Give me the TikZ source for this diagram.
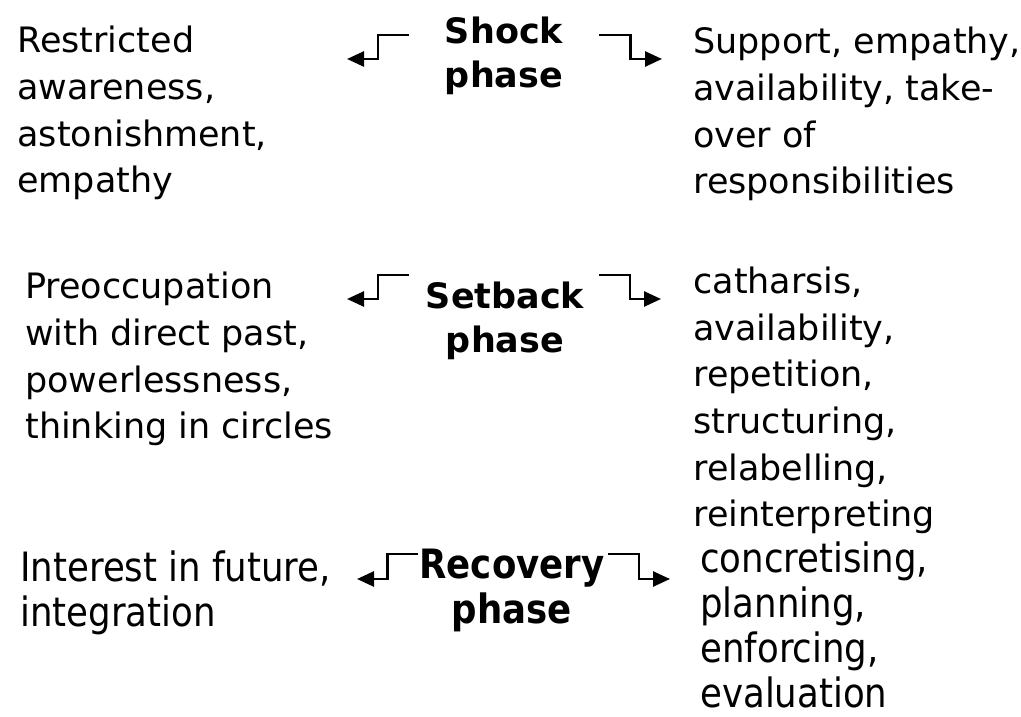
\documentclass[tikz,border=0pt]{standalone}
\usepackage{fontspec}
\setmainfont{DejaVu Sans}
\newfontfamily\narrowfont{DejaVu Sans}[FakeStretch=0.88]
\usetikzlibrary{arrows.meta,calc}

\begin{document}
\begin{tikzpicture}[x=1cm,y=1cm,
  txt/.style={anchor=base west, align=left, inner sep=0pt,
    font=\fontsize{19.9}{26.6}\selectfont},
  phase/.style={anchor=base, align=center, inner sep=0pt,
    font=\fontsize{19.9}{25.5}\selectfont\bfseries},
  narrow/.style={font=\narrowfont\fontsize{23}{25.5}\selectfont},
  flow/.style={line width=1.5pt, -{Triangle[length=0.34cm,width=0.3cm]}}]
\useasboundingbox (0,0) rectangle (20.42,14.32);

% shock phase (nodes placed at their last baseline)
\node[phase] (shock) at (10.08,12.56) {Shock\\phase};
\node[txt] (shock-l) at (0.34,10.46) {Restricted\\awareness,\\astonishment,\\empathy};
\node[txt] (shock-r) at (13.86,10.44) {Support, empathy,\\availability, take-\\over of\\responsibilities};
\coordinate (shock-l0) at (8.18,13.62);
\coordinate (shock-l1) at (6.94,13.14);
\coordinate (shock-r0) at (11.98,13.62);
\coordinate (shock-r1) at (13.24,13.14);
\draw[flow] (shock-l0) -| ($(shock-l0)!.5!(shock-l1)$) |- (shock-l1);
\draw[flow] (shock-r0) -| ($(shock-r0)!.5!(shock-r1)$) |- (shock-r1);

% setback phase
\node[phase] (setback) at (10.10,7.26) {Setback\\phase};
\node[txt] (setback-l) at (0.50,5.54) {Preoccupation\\with direct past,\\powerlessness,\\thinking in circles};
\node[txt] (setback-r) at (13.86,3.78) {catharsis,\\availability,\\repetition,\\structuring,\\relabelling,\\reinterpreting};
\coordinate (setback-l0) at (8.18,8.82);
\coordinate (setback-l1) at (6.94,8.34);
\coordinate (setback-r0) at (11.98,8.82);
\coordinate (setback-r1) at (13.22,8.34);
\draw[flow] (setback-l0) -| ($(setback-l0)!.5!(setback-l1)$) |- (setback-l1);
\draw[flow] (setback-r0) -| ($(setback-r0)!.5!(setback-r1)$) |- (setback-r1);

% recovery phase
\node[phase,narrow] (recovery) at (10.24,1.86) {\bfseries Recovery\\\bfseries phase};
\node[txt,narrow] (recovery-l) at (0.40,1.80) {Interest in future,\\integration};
\node[txt,narrow] (recovery-r) at (14.00,0.18) {concretising,\\planning,\\enforcing,\\evaluation};
\coordinate (recovery-l0) at (8.36,3.24);
\coordinate (recovery-l1) at (7.14,2.74);
\coordinate (recovery-r0) at (12.16,3.24);
\coordinate (recovery-r1) at (13.40,2.74);
\draw[flow] (recovery-l0) -| ($(recovery-l0)!.5!(recovery-l1)$) |- (recovery-l1);
\draw[flow] (recovery-r0) -| ($(recovery-r0)!.5!(recovery-r1)$) |- (recovery-r1);
\end{tikzpicture}
\end{document}
